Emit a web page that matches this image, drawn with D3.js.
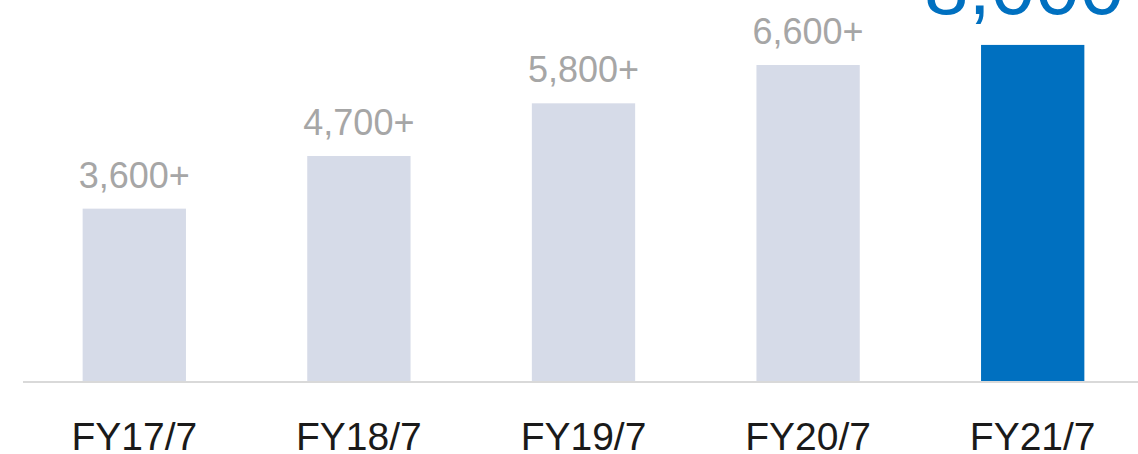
<!DOCTYPE html>
<html>
<head>
<meta charset="utf-8">
<script src="https://cdn.jsdelivr.net/npm/d3@7"></script>
<style>
  body { margin: 0; background: #fff; }
  svg { display: block; }
</style>
</head>
<body>
<div id="canva"></div>
<script>
var years = ["FY17/7", "FY18/7", "FY19/7", "FY20/7", "FY21/7"];
var counts = [3600, 4700, 5800, 6600, 7020];
var labels = ["3,600+", "4,700+", "5,800+", "6,600+", "8,000+"];

var width = 1138, height = 454;
var base = 381;

var svg = d3.select("#canva")
	.append("svg")
	.attr("width", width)
	.attr("height", height);

var x = d3.scaleBand()
	.domain(years)
	.range([22, 1145])
	.paddingInner(0.54)
	.paddingOuter(0.27);

var y = d3.scaleLinear()
	.domain([0, 8000])
	.range([base, -2]);

svg.selectAll(".bar")
	.data(years)
	.enter()
	.append("rect")
	.attr("class", "bar")
	.attr("x", function(d){ return x(d); })
	.attr("width", x.bandwidth())
	.attr("y", function(d, i){ return y(counts[i]); })
	.attr("height", function(d, i){ return base - y(counts[i]); })
	.attr("fill", function(d, i){ return i == years.length - 1 ? "#0070c0" : "#d6dbe8"; });

// baseline
svg.append("line")
	.attr("x1", 23)
	.attr("x2", width)
	.attr("y1", base + 1)
	.attr("y2", base + 1)
	.attr("stroke", "#d9d9d9")
	.attr("stroke-width", 2);

// value labels
svg.selectAll(".val")
	.data(years.slice(0, 4))
	.enter()
	.append("text")
	.attr("class", "val")
	.attr("x", function(d){ return x(d) + x.bandwidth() / 2; })
	.attr("y", function(d, i){ return y(counts[i]) - 21; })
	.attr("text-anchor", "middle")
	.attr("font-family", "Liberation Sans, Arial, sans-serif")
	.attr("font-size", 36)
	.attr("fill", "#a6a6a6")
	.text(function(d, i){ return labels[i]; });

// last (highlighted) label, big and blue
var last = years.length - 1;
svg.append("text")
	.attr("x", x(years[last]) - 57)
	.attr("y", y(counts[last]) - 31)
	.attr("font-family", "Liberation Sans, Arial, sans-serif")
	.attr("font-size", 80)
	.attr("fill", "#0070c0")
	.text(labels[last]);

// category labels
svg.selectAll(".cat")
	.data(years)
	.enter()
	.append("text")
	.attr("class", "cat")
	.attr("x", function(d){ return x(d) + x.bandwidth() / 2; })
	.attr("y", 450)
	.attr("text-anchor", "middle")
	.attr("font-family", "Liberation Sans, Arial, sans-serif")
	.attr("font-size", 39)
	.attr("fill", "#1a1a1a")
	.text(function(d){ return d; });
</script>
</body>
</html>
